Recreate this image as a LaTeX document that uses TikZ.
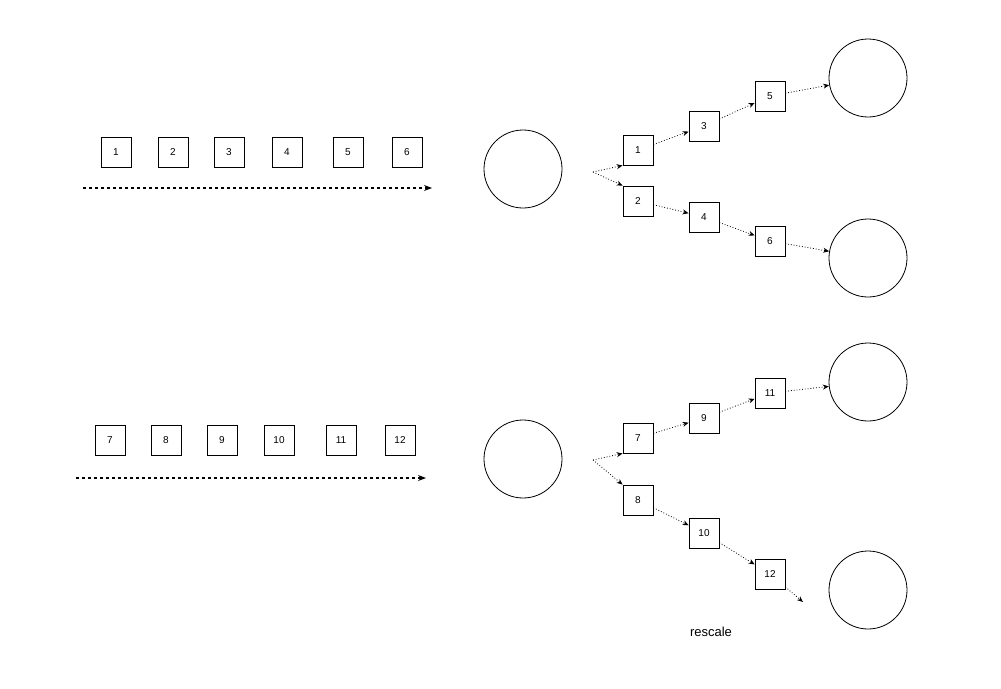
\documentclass[tikz,border=0pt]{standalone}
\usepackage{fontspec}
\setmainfont{Liberation Sans}
\usetikzlibrary{arrows.meta}
\begin{document}
\begin{tikzpicture}[x=1pt,y=-1pt,
 mybox/.style={draw,line width=0.8pt,minimum size=30pt,inner sep=0pt,font=\fontsize{10}{12}\selectfont},
 mycirc/.style={draw,line width=0.8pt,circle,minimum size=78pt,inner sep=0pt},
 dotarr/.style={dotted,line width=0.8pt,-{Stealth[length=6pt,width=5pt]}},
 dasharr/.style={dashed,line width=1.1pt,-{Stealth[length=8pt,width=6pt]}}]
\useasboundingbox (0,0) rectangle (1001,688);
\foreach \n/\x in {1/116,2/173,3/229,4/287,5/348,6/407}{\node[mybox] (t\n) at (\x,152) {\n};}
\coordinate (ta) at (83,188); \coordinate (tb) at (432,188);
\draw[dasharr] (ta) -- (tb);
\foreach \n/\x in {7/110,8/166,9/222,10/279,11/341,12/400}{\node[mybox] (t\n) at (\x,440) {\n};}
\coordinate (ba) at (76,478); \coordinate (bb) at (426,478);
\draw[dasharr] (ba) -- (bb);
\node[mycirc] (c1) at (523,169) {};
\node[mycirc] (c2) at (523,459) {};
\node[mycirc] (r1) at (868,78) {};
\node[mycirc] (r2) at (868,258) {};
\node[mycirc] (r3) at (868,382) {};
\node[mycirc] (r4) at (868,590) {};
\coordinate (s1) at (593,172); \coordinate (s2) at (593,460);
\node[mybox] (b1) at (638,150) {1};
\node[mybox] (b2) at (638,201) {2};
\node[mybox] (b3) at (704,126) {3};
\node[mybox] (b4) at (704,217) {4};
\node[mybox] (b5) at (770,96) {5};
\node[mybox] (b6) at (770,241) {6};
\node[mybox] (b7) at (638,438) {7};
\node[mybox] (b8) at (638,500) {8};
\node[mybox] (b9) at (704,418) {9};
\node[mybox] (b10) at (704,533) {10};
\node[mybox] (b11) at (770,393) {11};
\node[mybox] (b12) at (770,574) {12};
\coordinate (e12) at (803,602);
\draw[dotarr] (s1) -- (b1.south west);
\draw[dotarr] (s1) -- (b2.north west);
\draw[dotarr] (b1) -- (b3);
\draw[dotarr] (b3) -- (b5);
\draw[dotarr] (b5) -- (r1);
\draw[dotarr] (b2) -- (b4);
\draw[dotarr] (b4) -- (b6);
\draw[dotarr] (b6) -- (r2);
\draw[dotarr] (s2) -- (b7.south west);
\draw[dotarr] (s2) -- (b8.north west);
\draw[dotarr] (b7) -- (b9);
\draw[dotarr] (b9) -- (b11);
\draw[dotarr] (b11) -- (r3);
\draw[dotarr] (b8) -- (b10);
\draw[dotarr] (b10) -- (b12);
\draw[dotarr] (b12) -- (e12);
\node[font=\fontsize{13}{15}\selectfont] (lab) at (711,632) {rescale};
\end{tikzpicture}
\end{document}
